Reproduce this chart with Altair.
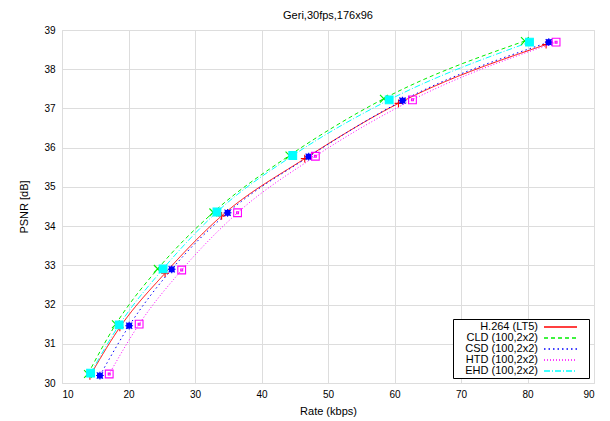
import altair as alt
import pandas as pd

series_names = ["H.264 (LT5)", "CLD (100,2x2)", "CSD (100,2x2)", "HTD (100,2x2)", "EHD (100,2x2)"]
marker_keys = ["m0", "m1", "m2", "m3", "m4"]

h264_rate = [14.2, 18.7, 25.5, 34.0, 46.5, 60.6, 82.8]
h264_psnr = [30.18, 31.42, 32.80, 34.26, 35.72, 37.13, 38.63]
cld_rate = [13.9, 18.1, 24.4, 32.75, 44.2, 58.4, 79.6]
cld_psnr = [30.23, 31.50, 32.91, 34.35, 35.80, 37.25, 38.72]
csd_rate = [15.7, 20.1, 26.5, 34.9, 47.1, 61.2, 83.2]
csd_psnr = [30.19, 31.46, 32.90, 34.34, 35.77, 37.20, 38.69]
htd_rate = [17.1, 21.6, 28.0, 36.4, 48.1, 62.7, 84.3]
htd_psnr = [30.23, 31.50, 32.88, 34.34, 35.78, 37.22, 38.69]
ehd_rate = [14.3, 18.6, 25.2, 33.3, 44.7, 59.2, 80.3]
ehd_psnr = [30.25, 31.48, 32.91, 34.36, 35.80, 37.22, 38.69]

x_ticks = [10, 20, 30, 40, 50, 60, 70, 80, 90]
y_ticks = [30, 31, 32, 33, 34, 35, 36, 37, 38, 39]

colors = ["#ff0000", "#00ee00", "#0000ff", "#ff00ff", "#00ffff"]
dashes = [[1, 0], [4, 3], [1.5, 3], [1, 2], [6, 2, 1, 2]]
shapes = [
    "M-1,0L1,0M0,-1L0,1",
    "M-1,-1L1,1M-1,1L1,-1",
    "M-1,0L1,0M0,-1L0,1M-0.8,-0.8L0.8,0.8M-0.8,0.8L0.8,-0.8M-0.6,-0.6L0.6,-0.6L0.6,0.6L-0.6,0.6Z",
    "M-1,-1L1,-1L1,1L-1,1ZM-0.25,-0.25L0.25,-0.25L0.25,0.25L-0.25,0.25Z",
    "square",
]
fills = ["transparent", "transparent", "#0000ff", "transparent", "#00ffff"]

rows = []
for name, key, rates, psnrs in zip(
    series_names, marker_keys,
    [h264_rate, cld_rate, csd_rate, htd_rate, ehd_rate],
    [h264_psnr, cld_psnr, csd_psnr, htd_psnr, ehd_psnr],
):
    for i, (r, p) in enumerate(zip(rates, psnrs)):
        rows.append({"series": name, "marker": key, "rate": r, "psnr": p, "idx": i})
df = pd.DataFrame(rows)

font = "Liberation Sans"

x_enc = alt.X(
    "rate:Q",
    scale=alt.Scale(domain=[10, 90], nice=False),
    axis=alt.Axis(
        values=x_ticks, title="Rate (kbps)", grid=True, ticks=False, domain=False,
        labelPadding=6, titlePadding=6, format="d", labelOverlap=False,
        titleFontWeight="normal",
    ),
)
y_enc = alt.Y(
    "psnr:Q",
    scale=alt.Scale(domain=[30, 39], nice=False, zero=False),
    axis=alt.Axis(
        values=y_ticks, title="PSNR [dB]", grid=True, ticks=False, domain=False,
        labelPadding=7, titlePadding=14, format="d", labelOverlap=False,
        titleFontWeight="normal",
    ),
)

legend = alt.Legend(
    title=None, orient="bottom-right", offset=5,
    strokeColor="black", fillColor="white", padding=2,
    symbolType="M16.6,0L23.2,0M24.6,0", symbolSize=100, symbolStrokeWidth=1.3,
    labelFontSize=11, labelFont=font, rowPadding=0,
    labelAlign="right", labelOffset=71,
)

base = alt.Chart(df)

lines = base.mark_line(strokeWidth=1, interpolate="monotone").encode(
    x=x_enc,
    y=y_enc,
    color=alt.Color(
        "series:N",
        scale=alt.Scale(domain=series_names, range=colors),
        sort=series_names,
        legend=legend,
    ),
    strokeDash=alt.StrokeDash(
        "series:N",
        scale=alt.Scale(domain=series_names, range=dashes),
        sort=series_names,
        legend=legend,
    ),
    order="idx:Q",
)

points = base.mark_point(filled=False, strokeWidth=1.1, size=60, opacity=1).encode(
    x=x_enc,
    y=y_enc,
    shape=alt.Shape("marker:N", scale=alt.Scale(domain=marker_keys, range=shapes), legend=None),
    stroke=alt.Stroke("marker:N", scale=alt.Scale(domain=marker_keys, range=colors), legend=None),
    fill=alt.Fill("marker:N", scale=alt.Scale(domain=marker_keys, range=fills), legend=None),
)

chart = (
    alt.layer(lines, points)
    .properties(
        width=532,
        height=353,
        autosize=alt.AutoSizeParams(type="none"),
        padding={"left": 54, "top": 22, "right": 8, "bottom": 36},
        title=alt.TitleParams(
            "Geri,30fps,176x96", fontSize=11, fontWeight="normal", font=font,
            anchor="middle", frame="group", offset=4,
        ),
    )
    .configure_view(stroke="black", strokeWidth=1.5)
    .configure_axis(
        labelFont=font, labelFontSize=11, titleFont=font, titleFontSize=11,
        titleFontWeight="normal", labelColor="black", titleColor="black",
        gridColor="#000000", gridOpacity=0.8, gridDash=[1, 2], gridWidth=1,
    )
    .configure(background="white")
)

chart.save("out.html", embed_options={"renderer": "svg", "actions": False})
